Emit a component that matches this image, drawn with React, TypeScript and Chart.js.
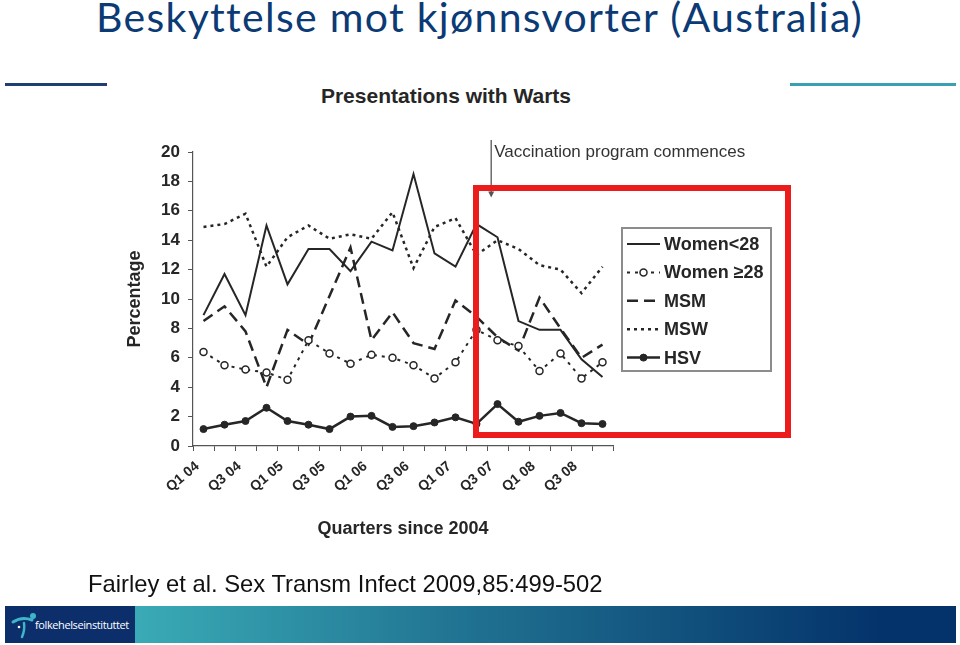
import React, { useEffect, useRef } from "react";
import { Chart, registerables } from "chart.js";

Chart.register(...registerables);

// ---- data ----
const quarterLabels = [
  "Q1 04", "Q2 04", "Q3 04", "Q4 04",
  "Q1 05", "Q2 05", "Q3 05", "Q4 05",
  "Q1 06", "Q2 06", "Q3 06", "Q4 06",
  "Q1 07", "Q2 07", "Q3 07", "Q4 07",
  "Q1 08", "Q2 08", "Q3 08", "Q4 08",
];

const womenUnder28 = [8.9, 11.7, 8.9, 15.0, 11.0, 13.4, 13.4, 11.9, 13.9, 13.3, 18.5, 13.1, 12.2, 15.1, 14.2, 8.5, 7.9, 7.9, 5.9, 4.7];
const womenOver28 = [6.4, 5.5, 5.2, 5.0, 4.5, 7.2, 6.3, 5.6, 6.2, 6.0, 5.5, 4.6, 5.7, 7.9, 7.2, 6.8, 5.1, 6.3, 4.6, 5.7];
const msm = [8.5, 9.5, 7.8, 4.0, 7.9, 6.9, 10.2, 13.5, 7.2, 9.1, 7.0, 6.6, 9.9, 8.8, 7.4, 6.5, 10.1, 8.0, 6.0, 6.9];
const msw = [14.9, 15.1, 15.8, 12.2, 14.2, 15.0, 14.1, 14.4, 14.1, 15.9, 12.1, 14.9, 15.5, 13.0, 14.0, 13.4, 12.3, 12.0, 10.4, 12.2];
const hsv = [1.15, 1.45, 1.7, 2.6, 1.7, 1.45, 1.15, 2.0, 2.05, 1.3, 1.35, 1.6, 1.95, 1.5, 2.85, 1.65, 2.05, 2.25, 1.55, 1.5];

const seriesNames = ["Women<28", "Women \u226528", "MSM", "MSW", "HSV"];
const yMin = 0;
const yMax = 20;
const yStep = 2;
const vaccinationIndex = 13.7; // between Q2 07 and Q3 07
const annotationText = "Vaccination program commences";

const INK = "#262626";
const CHART_FONT = "'Liberation Sans', Arial, sans-serif";

const overlayPlugin = {
  id: "overlayPlugin",
  afterDraw(chart: any) {
    const ctx = chart.ctx;
    const area = chart.chartArea;
    const xs = chart.scales.x;
    const ys = chart.scales.y;
    ctx.save();

    // annotation arrow
    const ax = xs.getPixelForValue(vaccinationIndex);
    const aTop = area.top - 12;
    const aBot = ys.getPixelForValue(16.9);
    ctx.strokeStyle = "#555";
    ctx.lineWidth = 1.3;
    ctx.beginPath();
    ctx.moveTo(ax, aTop);
    ctx.lineTo(ax, aBot - 4);
    ctx.stroke();
    ctx.fillStyle = "#555";
    ctx.beginPath();
    ctx.moveTo(ax - 3, aBot - 6);
    ctx.lineTo(ax + 3, aBot - 6);
    ctx.lineTo(ax, aBot);
    ctx.closePath();
    ctx.fill();
    ctx.fillStyle = "#333";
    ctx.font = "17px " + CHART_FONT;
    ctx.textAlign = "left";
    ctx.textBaseline = "middle";
    ctx.fillText(annotationText, ax + 3, area.top);

    // legend box
    const lx = area.right + 9;
    const ly = area.top + 76;
    const lw = 149;
    const lh = 143;
    ctx.strokeStyle = "#8c8c8c";
    ctx.lineWidth = 2;
    ctx.strokeRect(lx, ly, lw, lh);
    const rowH = 28.4;
    chart.data.datasets.forEach((ds: any, i: number) => {
      const cy = ly + 16 + i * rowH;
      const x0 = lx + 5;
      const x1 = lx + 38;
      ctx.strokeStyle = ds.borderColor;
      ctx.lineWidth = ds.borderWidth;
      ctx.setLineDash(ds.borderDash || []);
      ctx.beginPath();
      ctx.moveTo(x0, cy);
      ctx.lineTo(x1, cy);
      ctx.stroke();
      ctx.setLineDash([]);
      if (ds.pointRadius > 0) {
        ctx.beginPath();
        ctx.arc((x0 + x1) / 2, cy, ds.pointRadius, 0, Math.PI * 2);
        ctx.fillStyle = ds.pointBackgroundColor;
        ctx.fill();
        ctx.lineWidth = ds.pointBorderWidth;
        ctx.strokeStyle = ds.pointBorderColor;
        ctx.stroke();
      }
      ctx.fillStyle = INK;
      ctx.font = "bold 18px " + CHART_FONT;
      ctx.textAlign = "left";
      ctx.textBaseline = "middle";
      ctx.fillText(ds.label, lx + 42, cy + 1);
    });
    ctx.restore();
  },
};

function ChartCanvas() {
  const ref = useRef<HTMLCanvasElement | null>(null);
  useEffect(() => {
    if (!ref.current) return;
    const chart = new Chart(ref.current, {
      type: "line",
      data: {
        labels: quarterLabels,
        datasets: [
          {
            label: seriesNames[0],
            data: womenUnder28,
            borderColor: INK,
            borderWidth: 2,
            pointRadius: 0,
            tension: 0,
          },
          {
            label: seriesNames[1],
            data: womenOver28,
            borderColor: INK,
            borderWidth: 2,
            borderDash: [3, 5],
            pointRadius: 3.5,
            pointBackgroundColor: "#ffffff",
            pointBorderColor: INK,
            pointBorderWidth: 1.5,
            tension: 0,
          },
          {
            label: seriesNames[2],
            data: msm,
            borderColor: INK,
            borderWidth: 2.5,
            borderDash: [11, 6],
            pointRadius: 0,
            tension: 0,
          },
          {
            label: seriesNames[3],
            data: msw,
            borderColor: INK,
            borderWidth: 2.5,
            borderDash: [3, 4],
            pointRadius: 0,
            tension: 0,
          },
          {
            label: seriesNames[4],
            data: hsv,
            borderColor: INK,
            borderWidth: 2.5,
            pointRadius: 3.5,
            pointBackgroundColor: INK,
            pointBorderColor: INK,
            pointBorderWidth: 1,
            tension: 0,
          },
        ],
      },
      options: {
        responsive: false,
        animation: false,
        devicePixelRatio: 1,
        layout: { padding: { left: 120, top: 152, right: 347, bottom: 99 } },
        plugins: {
          legend: { display: false },
          tooltip: { enabled: false },
          title: { display: false },
        },
        scales: {
          x: {
            type: "category",
            offset: true,
            afterFit: (s: any) => {
              s.height = 100;
            },
            grid: {
              offset: true,
              drawOnChartArea: false,
              drawTicks: true,
              tickLength: 5,
              color: "#555",
            },
            border: { display: true, color: "#555", width: 1.2 },
            ticks: {
              autoSkip: false,
              minRotation: 40,
              maxRotation: 40,
              padding: 7,
              labelOffset: -6,
              color: INK,
              font: { family: CHART_FONT, size: 14, weight: "bold" },
              callback: (_v: any, i: number) => (i % 2 === 0 ? quarterLabels[i] : ""),
            },
            title: {
              display: true,
              text: "Quarters since 2004",
              color: INK,
              font: { family: CHART_FONT, size: 18, weight: "bold" },
              padding: { top: 0, bottom: 6 },
            },
          },
          y: {
            min: yMin,
            max: yMax,
            afterFit: (s: any) => {
              s.width = 73;
            },
            grid: {
              drawOnChartArea: false,
              drawTicks: true,
              tickLength: 5,
              color: "#555",
            },
            border: { display: true, color: "#555", width: 1.2 },
            ticks: {
              stepSize: yStep,
              padding: 8,
              color: INK,
              font: { family: CHART_FONT, size: 17, weight: "bold" },
            },
            title: {
              display: true,
              text: "Percentage",
              color: INK,
              font: { family: CHART_FONT, size: 18, weight: "bold" },
              padding: { top: 4, bottom: 0 },
            },
          },
        },
      },
      plugins: [overlayPlugin],
    } as any);
    return () => chart.destroy();
  }, []);
  return (
    <canvas
      ref={ref}
      width={960}
      height={645}
      style={{ position: "absolute", left: 0, top: 0, width: 960, height: 645 }}
    />
  );
}

export default function App() {
  return (
    <div
      style={{
        position: "fixed",
        left: 0,
        top: 0,
        width: 960,
        height: 645,
        overflow: "hidden",
        background: "#ffffff",
      }}
    >
      <div
        style={{
          position: "absolute",
          left: 96,
          top: -8,
          fontFamily: "Lato, 'Open Sans', sans-serif",
          fontSize: 41,
          letterSpacing: 1.3,
          color: "#0b3a75",
          whiteSpace: "nowrap",
        }}
      >
        Beskyttelse mot kjønnsvorter (Australia)
      </div>
      <div style={{ position: "absolute", left: 5, top: 83, width: 102, height: 3, background: "#1e3f72" }} />
      <div style={{ position: "absolute", left: 790, top: 83, width: 166, height: 3, background: "#3a9fb2" }} />
      <div
        style={{
          position: "absolute",
          left: 246,
          width: 400,
          top: 84,
          textAlign: "center",
          fontFamily: CHART_FONT,
          fontWeight: "bold",
          fontSize: 21,
          color: INK,
          whiteSpace: "nowrap",
        }}
      >
        Presentations with Warts
      </div>
      <ChartCanvas />
      <div
        style={{
          position: "absolute",
          left: 473,
          top: 185,
          width: 318,
          height: 253,
          border: "6px solid #ec1c1c",
          boxSizing: "border-box",
        }}
      />
      <div
        style={{
          position: "absolute",
          left: 88,
          top: 570,
          fontFamily: CHART_FONT,
          fontSize: 23.8,
          color: "#111",
          whiteSpace: "nowrap",
        }}
      >
        Fairley et al. Sex Transm Infect 2009,85:499-502
      </div>
      <div
        style={{
          position: "absolute",
          left: 5,
          top: 606,
          width: 951,
          height: 37,
          background:
            "linear-gradient(to right, #0c2f6c 0px, #0c2f6c 130px, #3aabb6 130px, #1f7090 50%, #04336b 92%, #04336b 100%)",
        }}
      >
        <svg width="30" height="30" style={{ position: "absolute", left: 5, top: 4 }} viewBox="0 0 30 30">
          <path d="M3 12 Q12 6 22 10" stroke="#3fb5c8" strokeWidth="3" fill="none" strokeLinecap="round" />
          <circle cx="23" cy="6" r="3" fill="#3fb5c8" />
          <path d="M14 13 Q15 20 12 27" stroke="#3fb5c8" strokeWidth="2.5" fill="none" strokeLinecap="round" />
          <circle cx="9" cy="17" r="1.3" fill="#ffffff" />
        </svg>
        <div
          style={{
            position: "absolute",
            left: 30,
            top: 11,
            fontFamily: "'Open Sans', sans-serif",
            fontSize: 11,
            letterSpacing: -0.4,
            color: "#ffffff",
            whiteSpace: "nowrap",
          }}
        >
          folkehelseinstituttet
        </div>
      </div>
    </div>
  );
}
